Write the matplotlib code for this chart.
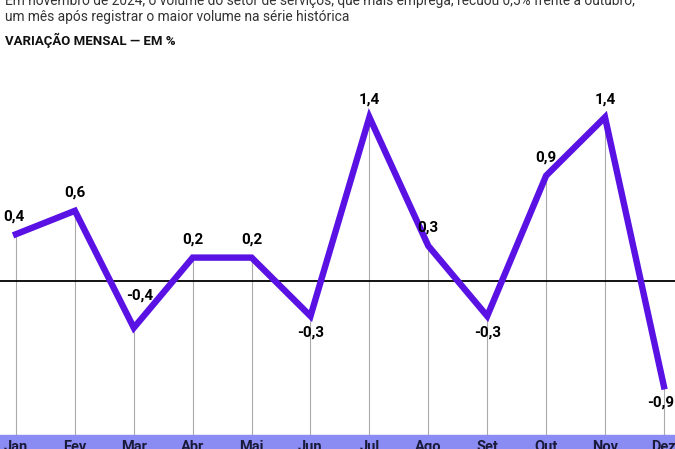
import matplotlib.pyplot as plt
from matplotlib.patches import Rectangle

meses = ["Jan", "Fev", "Mar", "Abr", "Mai", "Jun", "Jul", "Ago", "Set", "Out", "Nov", "Dez"]
variacao = [0.4, 0.6, -0.4, 0.2, 0.2, -0.3, 1.4, 0.3, -0.3, 0.9, 1.4, -0.9]
rotulos = ["0,4", "0,6", "-0,4", "0,2", "0,2", "-0,3", "1,4", "0,3", "-0,3", "0,9", "1,4", "-0,9"]

subtitulo = ("Em novembro de 2024, o volume do setor de serviços, que mais emprega, recuou 0,5% frente a outubro,\n"
             "um mês após registrar o maior volume na série histórica")
titulo = "VARIAÇÃO MENSAL — EM %"

plt.rcParams['font.family'] = ['Roboto', 'DejaVu Sans']

W, H = 675, 449
fig = plt.figure(figsize=(W / 100, H / 100), dpi=100)

# chart area: from y=60 (top) to y=435 (band top), zero line at y=281, 117 px per unit
top_px, bot_px = 60, 435
zero_px, unit = 281, 117.0
ymax = (zero_px - top_px) / unit
ymin = -(bot_px - zero_px) / unit
step = 58.9
x0 = 16
ax = fig.add_axes([0, 1 - bot_px / H, 1, (bot_px - top_px) / H])
ax.set_xlim(-x0 / step, (W - x0) / step)
ax.set_ylim(ymin, ymax)
ax.axis('off')

xs = list(range(len(meses)))
for x, v in zip(xs, variacao):
    ax.plot([x, x], [v, ymin], color='#aaaaaa', lw=0.8, zorder=1)
ax.axhline(0, color='black', lw=1.3, zorder=2)
ax.plot(xs, variacao, color='#5a12e4', lw=4.6, solid_joinstyle='miter', zorder=3)

for x, v, r in zip(xs, variacao, rotulos):
    dx = 0
    if x == 0:
        dx = -0.03
    if x == 11:
        dx = -0.05
    if x == 2:
        # label sits inside the dip
        ax.annotate(r, (x + 0.1, v), xytext=(0, 18), textcoords='offset points',
                    ha='center', va='bottom', fontsize=11, fontweight='bold')
    elif v >= 0:
        ax.annotate(r, (x + dx, v), xytext=(0, 8), textcoords='offset points',
                    ha='center', va='bottom', fontsize=11, fontweight='bold')
    else:
        ax.annotate(r, (x + dx, v), xytext=(0, -7), textcoords='offset points',
                    ha='center', va='top', fontsize=11, fontweight='bold')

# month band
fig.patches.append(Rectangle((0, 0), 1, (H - bot_px) / H, transform=fig.transFigure,
                             color='#8a8cf4', zorder=0))
for x, m in zip(xs, meses):
    px = (x0 + x * step) / W
    fig.text(px, -0.012, m, ha='center', va='bottom', fontsize=10.5, fontweight='bold',
             color='#1a1a3a')

fig.text(0.007, 1 - 24 / H, subtitulo, ha='left', va='bottom', fontsize=9.9, color='#333333',
         linespacing=1.2)
fig.text(0.007, 1 - 40 / H, titulo, ha='left', va='center', fontsize=9.5, fontweight='bold',
         color='#111111')

fig.savefig('out.png', dpi=100)
